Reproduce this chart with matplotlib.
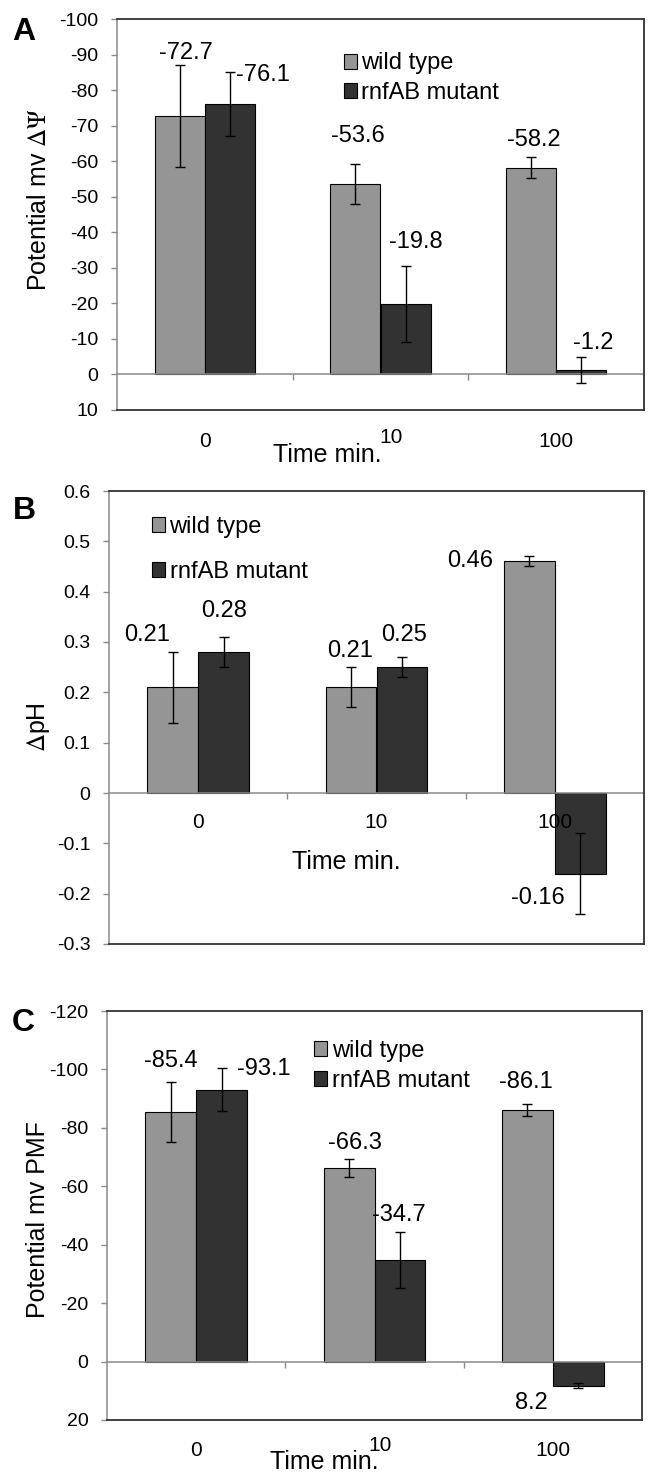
import matplotlib.pyplot as plt
import numpy as np

plt.rcParams['font.family'] = ['Liberation Sans', 'DejaVu Sans']
plt.rcParams['mathtext.fontset'] = 'stix'

# data
times = ['0', '10', '100']
series = ['wild type', 'rnfAB mutant']

dpsi_wt = [-72.7, -53.6, -58.2]
dpsi_wt_err = [14.4, 5.7, 3.0]
dpsi_mut = [-76.1, -19.8, -1.2]
dpsi_mut_err = [9.1, 10.8, 3.7]

dph_wt = [0.21, 0.21, 0.46]
dph_wt_err = [0.07, 0.04, 0.01]
dph_mut = [0.28, 0.25, -0.16]
dph_mut_err = [0.03, 0.02, 0.08]

pmf_wt = [-85.4, -66.3, -86.1]
pmf_wt_err = [10.2, 3.1, 1.9]
pmf_mut = [-93.1, -34.7, 8.2]
pmf_mut_err = [7.3, 9.5, 1.0]

WT_COL = '#959595'
MUT_COL = '#323232'
GRID_GRAY = '#8a8a8a'
BORDER = '#333333'

fig = plt.figure(figsize=(6.48, 14.72), dpi=100)


def panel(rect, wt, wt_err, mut, mut_err, ylim, yticks, fmt, ylabel,
          ylabel_xy, leg_xy, leg_space, lab_off, cat_ref, cat_off, title_xy,
          letter, letter_xy):
    ax = fig.add_axes(rect)
    x = np.arange(len(times))
    w = 1 / 3.5
    ax.bar(x - w / 2, wt, w, color=WT_COL, edgecolor='black', lw=0.8,
           label=series[0], zorder=2)
    ax.bar(x + w / 2, mut, w, color=MUT_COL, edgecolor='black', lw=0.8,
           label=series[1], zorder=2)
    ax.errorbar(x - w / 2, wt, yerr=wt_err, fmt='none', ecolor='black',
                elinewidth=1, capsize=3.5, capthick=1, zorder=3)
    ax.errorbar(x + w / 2, mut, yerr=mut_err, fmt='none', ecolor='black',
                elinewidth=1, capsize=3.5, capthick=1, zorder=3)

    # value labels
    vals = list(wt) + list(mut)
    xs = list(x - w / 2) + list(x + w / 2)
    for xv, v, off in zip(xs, vals, lab_off):
        ax.annotate(fmt.format(v), xy=(xv, v), xytext=off,
                    textcoords='offset points', ha='center', va='center',
                    fontsize=17)

    ax.set_xlim(-0.5, 2.5)
    ax.set_ylim(*ylim)
    ax.set_yticks(yticks)
    ax.set_yticklabels(['{:g}'.format(round(t, 2)) for t in yticks])
    ax.tick_params(axis='y', direction='out', length=4.5, width=1,
                   color=GRID_GRAY, pad=9, labelsize=14)

    # excel style category axis crossing at zero
    ax.spines['bottom'].set_position(('data', 0))
    ax.spines['bottom'].set_color(GRID_GRAY)
    ax.spines['bottom'].set_linewidth(1.1)
    ax.spines['left'].set_color(GRID_GRAY)
    ax.spines['left'].set_linewidth(1.1)
    ax.spines['top'].set_visible(False)
    ax.spines['right'].set_visible(False)
    ax.set_xticks([0.5, 1.5])
    ax.set_xticklabels(['', ''])
    ax.tick_params(axis='x', direction='out', length=4, width=1,
                   color=GRID_GRAY)
    for xx, yy in [([0, 1], [1, 1]), ([1, 1], [0, 1]), ([0, 1], [0, 0])]:
        ax.plot(xx, yy, transform=ax.transAxes, color=BORDER, lw=1.3,
                clip_on=False, zorder=4)

    for i, t in enumerate(times):
        ax.annotate(t, xy=(i + cat_off[i][0], cat_ref), xytext=(0, cat_off[i][1]),
                    textcoords='offset points', ha='center', va='center',
                    fontsize=15, annotation_clip=False)
    ax.annotate('Time min.', xy=(title_xy[0], cat_ref),
                xytext=(0, title_xy[1]), textcoords='offset points',
                ha='center', va='center', fontsize=18,
                annotation_clip=False)

    ax.set_ylabel(ylabel, fontsize=18)
    ax.yaxis.set_label_coords(*ylabel_xy)

    ax.legend(loc='center left', bbox_to_anchor=leg_xy, frameon=False,
              fontsize=17, handlelength=0.55, handleheight=0.6,
              handletextpad=0.2, labelspacing=leg_space, borderpad=0,
              borderaxespad=0)

    fig.text(letter_xy[0], letter_xy[1], letter, fontsize=23,
             fontweight='bold', ha='center', va='center')
    return ax


# A: membrane potential
panel([117 / 648, 1 - 410 / 1472, 527 / 648, 391 / 1472],
      dpsi_wt, dpsi_wt_err, dpsi_mut, dpsi_mut_err,
      (10, -100), np.arange(-100, 11, 10), '{:.1f}',
      r'Potential mv $\Delta\Psi$', (-0.125, 0.537), (0.43, 0.849), 0.3,
      [(4.8, 45.3), (1.9, 34.3), (1.9, 20), (24, 21), (7, 45), (8.3, 19.5)],
      10, [(0, -23), (0.06, -19.5), (0, -23)], (0.70, -32.4), 'A',
      (24 / 648, 1 - 32 / 1472))

# B: delta pH
panel([109 / 648, 1 - 944 / 1472, 535 / 648, 453 / 1472],
      dph_wt, dph_wt_err, dph_mut, dph_mut_err,
      (-0.3, 0.6), np.round(np.arange(-0.3, 0.61, 0.1), 1), '{:.2f}',
      r'$\Delta$pH', (-0.107, 0.479), (0.08, 0.871), 0.95,
      [(-18.2, 38), (-0.9, 26.4), (-43, 0), (0, 29.7), (1.2, 23.5),
       (-30.7, -17.4)],
      0, [(0, -21.6), (0, -21.6), (0, -21.6)], (0.83, -49.7), 'B',
      (24 / 648, 1 - 511 / 1472))

# C: proton motive force
panel([107 / 648, 1 - 1420 / 1472, 535 / 648, 409 / 1472],
      pmf_wt, pmf_wt_err, pmf_mut, pmf_mut_err,
      (20, -120), np.arange(-120, 21, 20), '{:.1f}',
      'Potential mv PMF', (-0.107, 0.489), (0.387, 0.866), 0.35,
      [(0.4, 37), (3.9, 17.7), (-0.9, 20.4), (30.7, 14.7), (-0.9, 32.6),
       (-34, -12.8)],
      20, [(0, -22.3), (0.03, -18.7), (0, -21.6)], (0.72, -30.2), 'C',
      (23 / 648, 1 - 1023 / 1472))

fig.savefig('out.png', dpi=100)
